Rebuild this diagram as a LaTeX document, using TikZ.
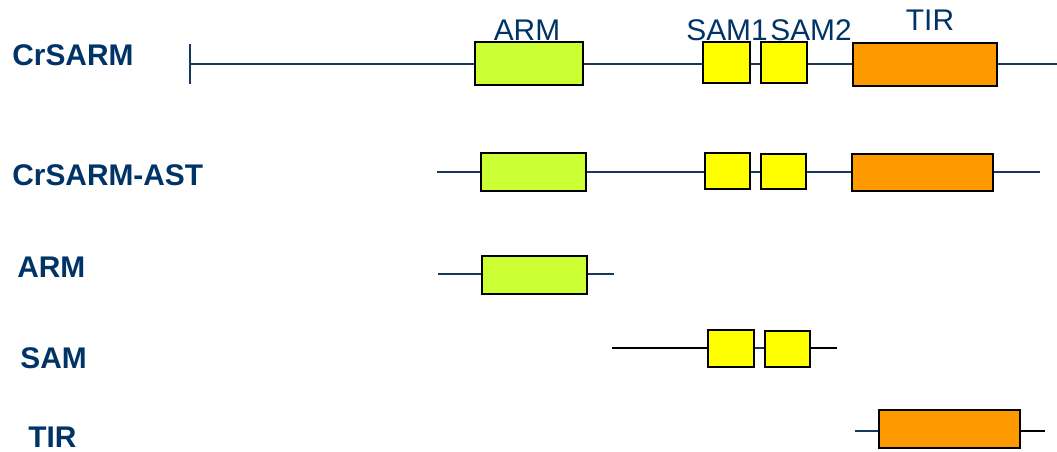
\documentclass[tikz,border=0pt]{standalone}
\usepackage{fontspec}
\setmainfont{Liberation Sans}
\usetikzlibrary{positioning}
\definecolor{labelblue}{RGB}{0,51,102}
\definecolor{lineblue}{RGB}{23,55,94}
\definecolor{armgreen}{RGB}{204,255,51}
\definecolor{samyellow}{RGB}{255,255,0}
\definecolor{tirorange}{RGB}{255,153,0}
\tikzset{
  dombox/.style={draw=black, line width=1.5pt, inner sep=0pt},
  boxsize/.style 2 args={minimum width=#1*0.02cm, minimum height=#2*0.02cm},
  armbox/.style={dombox, fill=armgreen},
  sambox/.style={dombox, fill=samyellow},
  tirbox/.style={dombox, fill=tirorange},
  backbone/.style={draw=lineblue, line width=1.1pt},
  blackbone/.style={draw=black, line width=1.1pt},
  rowlabel/.style={anchor=west, inner sep=0pt, text=labelblue, font=\fontsize{17}{20}\selectfont\bfseries},
  domlabel/.style={inner sep=0pt, text=labelblue, font=\fontsize{17}{20}\selectfont}
}
\begin{document}
\begin{tikzpicture}[x=0.02cm, y=-0.02cm]
\useasboundingbox (0,0) rectangle (1057,451);

\node [rowlabel] (crsarm) at (12,55) {CrSARM};
\node [rowlabel] (crsarmast) at (12,175) {CrSARM-AST};
\node [rowlabel] (armrow) at (17,267) {ARM};
\node [rowlabel] (samrow) at (20,358) {SAM};
\node [rowlabel] (tirrow) at (28,437) {TIR};

\coordinate (full start) at (190,64);
\coordinate (full end) at (1057,64);
\node [armbox, boxsize={108}{43}] (full arm) at (529,63.5) {};
\node [sambox, boxsize={47}{41}] (full sam1) at (726.5,62.5) {};
\node [sambox, boxsize={46}{41}] (full sam2) at (784,62.5) {};
\node [tirbox, boxsize={144}{43}] (full tir) at (925,64.5) {};
\node [domlabel] (arm name) at (527,30) {ARM};
\node [domlabel] (sam1 name) at (727,30) {SAM1};
\node [domlabel] (sam2 name) at (811,30) {SAM2};
\node [domlabel] (tir name) at (930,20) {TIR};
\draw [backbone] (190,44) -- (190,84);
\draw [backbone] (full start) -- (full arm.west |- full start);
\draw [backbone] (full arm.east |- full start) -- (full sam1.west |- full start);
\draw [backbone] (full sam1.east |- full start) -- (full sam2.west |- full start);
\draw [backbone] (full sam2.east |- full start) -- (full tir.west |- full start);
\draw [backbone] (full tir.east |- full start) -- (full end);

\coordinate (ast start) at (437,172);
\coordinate (ast end) at (1040,172);
\node [armbox, boxsize={105}{38}] (ast arm) at (533.5,172) {};
\node [sambox, boxsize={45}{36}] (ast sam1) at (727.5,171) {};
\node [sambox, boxsize={45}{35}] (ast sam2) at (783.5,171.5) {};
\node [tirbox, boxsize={141}{37}] (ast tir) at (922.5,172.5) {};
\draw [backbone] (ast start) -- (ast arm.west |- ast start);
\draw [backbone] (ast arm.east |- ast start) -- (ast sam1.west |- ast start);
\draw [backbone] (ast sam1.east |- ast start) -- (ast sam2.west |- ast start);
\draw [backbone] (ast sam2.east |- ast start) -- (ast tir.west |- ast start);
\draw [backbone] (ast tir.east |- ast start) -- (ast end);

\coordinate (arm start) at (438,274);
\coordinate (arm end) at (614,274);
\node [armbox, boxsize={105}{38}] (arm only) at (534.5,275) {};
\draw [backbone] (arm start) -- (arm only.west |- arm start);
\draw [backbone] (arm only.east |- arm start) -- (arm end);

\coordinate (sam start) at (612,348);
\coordinate (sam end) at (837,348);
\node [sambox, boxsize={46}{37}] (sam only1) at (731,348.5) {};
\node [sambox, boxsize={45}{36}] (sam only2) at (787.5,349) {};
\draw [blackbone] (sam start) -- (sam only1.west |- sam start);
\draw [backbone] (sam only1.east |- sam start) -- (sam only2.west |- sam start);
\draw [blackbone] (sam only2.east |- sam start) -- (sam end);

\coordinate (tir start) at (855,431);
\coordinate (tir end) at (1045,431);
\node [tirbox, boxsize={141}{38}] (tir only) at (949.5,429) {};
\draw [backbone] (tir start) -- (tir only.west |- tir start);
\draw [blackbone] (tir only.east |- tir start) -- (tir end);
\end{tikzpicture}
\end{document}
